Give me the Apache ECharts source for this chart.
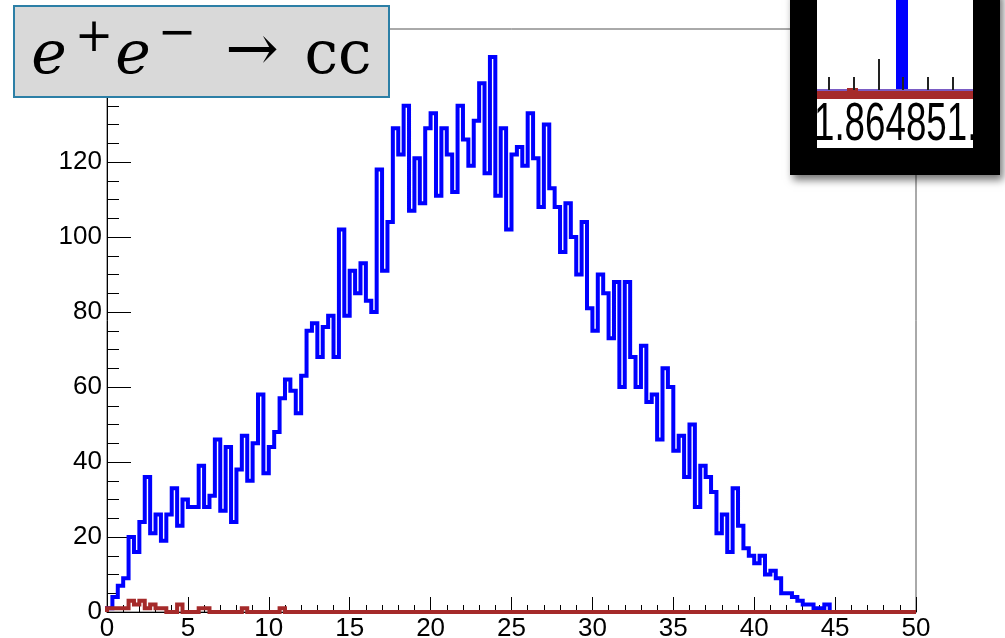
<!DOCTYPE html>
<html>
<head>
<meta charset="utf-8">
<script src="https://cdn.jsdelivr.net/npm/echarts@6/dist/echarts.min.js"></script>
<style>
  html, body { margin: 0; padding: 0; background: #fff; }
  #chart { width: 1005px; height: 638px; }
</style>
</head>
<body>
<div id="chart"></div>
<script>
// histogram: 150 bins from 0 to 50
const xMin = 0;
const xMax = 50;
const binCount = 150;
const yMax = 155.5;

const blueCounts = [
  1, 4, 7, 9, 20, 16, 24, 36, 21, 26,
  19, 26, 33, 23, 30, 28, 28, 39, 28, 31,
  46, 27, 44, 24, 38, 47, 35, 45, 58, 37,
  44, 48, 57, 62, 59, 53, 63, 75, 77, 68,
  76, 79, 68, 102, 79, 91, 85, 93, 83, 80,
  118, 91, 104, 129, 122, 135, 107, 121, 109, 129,
  133, 111, 129, 122, 112, 135, 126, 119, 131, 141,
  117, 148, 111, 129, 102, 122, 124, 119, 133, 121,
  108, 130, 113, 108, 96, 109, 100, 90, 104, 81,
  75, 90, 85, 73, 88, 60, 88, 68, 60, 71,
  56, 58, 46, 65, 60, 43, 47, 36, 50, 28,
  39, 36, 32, 21, 26, 16, 33, 23, 17, 15,
  13, 15, 10, 11, 9, 5, 5, 4, 3, 2,
  2, 1, 1, 2, 0, 0, 0, 0, 0, 0,
  0, 0, 0, 0, 0, 0, 0, 0, 0, 0
];

const redCounts = [
  1, 1, 1, 1, 3, 2, 3, 1, 2, 1,
  1, 0, 0, 2, 0, 0, 0, 1, 1, 0,
  0, 0, 0, 0, 0, 1, 0, 0, 0, 0,
  0, 0, 1, 0, 0, 0, 0, 0, 0, 0
];

const xTickLabels = ['0', '5', '10', '15', '20', '25', '30', '35', '40', '45', '50'];
const yTickLabels = ['0', '20', '40', '60', '80', '100', '120', '140'];

const titleParts = ['e', '+', 'e', '\u2212', '\u2192', 'cc'];
const insetLabel = '1.864851.';

// build step outline points from bin counts
function histPoints(counts) {
  const w = (xMax - xMin) / binCount;
  const pts = [[xMin, 0]];
  for (let i = 0; i < binCount; i++) {
    pts.push([xMin + i * w, counts[i] || 0]);
  }
  pts.push([xMax, counts[binCount - 1] || 0]);
  return pts;
}

const chart = echarts.init(document.getElementById('chart'));

const axisFont = { fontSize: 26, color: '#000', fontFamily: 'Liberation Sans, Arial, sans-serif' };

const option = {
  animation: false,
  backgroundColor: '#fff',
  grid: {
    left: 107, top: 29, width: 809, height: 583,
    outerBoundsMode: 'none', containLabel: false,
    show: true, borderColor: '#555', borderWidth: 1, backgroundColor: 'transparent'
  },
  xAxis: {
    type: 'value', min: xMin, max: xMax, interval: 5,
    axisLine: { show: true, onZero: false, lineStyle: { color: '#000', width: 1 } },
    axisTick: { show: true, inside: true, length: 15, lineStyle: { color: '#000', width: 1 } },
    minorTick: { show: true, splitNumber: 5, length: 7, lineStyle: { color: '#000', width: 1 } },
    splitLine: { show: false },
    axisLabel: Object.assign({ margin: 4, formatter: v => xTickLabels[Math.round(v / 5)] || '' }, axisFont)
  },
  yAxis: {
    type: 'value', min: 0, max: yMax, interval: 20,
    axisLine: { show: true, onZero: false, lineStyle: { color: '#000', width: 1 } },
    axisTick: { show: true, inside: true, length: 24, lineStyle: { color: '#000', width: 1 } },
    minorTick: { show: true, splitNumber: 4, length: 12, lineStyle: { color: '#000', width: 1 } },
    splitLine: { show: false },
    axisLabel: Object.assign({
      margin: 5,
      showMaxLabel: false,
      formatter: v => (v % 20 === 0 ? (yTickLabels[v / 20] || '') : '')
    }, axisFont)
  },
  series: [
    {
      type: 'line', step: 'end', symbol: 'none', clip: false,
      data: histPoints(blueCounts),
      lineStyle: { color: '#0000ff', width: 4, join: 'miter' },
      z: 2
    },
    {
      type: 'line', step: 'end', symbol: 'none', clip: false,
      data: histPoints(redCounts),
      lineStyle: { color: '#a52a2a', width: 4, join: 'miter' },
      z: 3
    }
  ],
  graphic: [
    // title box
    { type: 'rect', z: 100, shape: { x: 14, y: 6, width: 375, height: 91 },
      style: { fill: '#d9d9d9', stroke: '#2c7fa6', lineWidth: 2 } },
    { type: 'text', z: 101, style: { x: 49, y: 57, text: titleParts[0], font: 'italic 60px "DejaVu Serif"', fill: '#000', textAlign: 'center', textVerticalAlign: 'middle' } },
    { type: 'text', z: 101, style: { x: 94, y: 39, text: titleParts[1], font: '46px "DejaVu Serif"', fill: '#000', textAlign: 'center', textVerticalAlign: 'middle' } },
    { type: 'text', z: 101, style: { x: 133, y: 57, text: titleParts[2], font: 'italic 60px "DejaVu Serif"', fill: '#000', textAlign: 'center', textVerticalAlign: 'middle' } },
    { type: 'text', z: 101, style: { x: 177, y: 35, text: titleParts[3], font: '46px "DejaVu Serif"', fill: '#000', textAlign: 'center', textVerticalAlign: 'middle' } },
    { type: 'text', z: 101, style: { x: 252, y: 53, text: titleParts[4], font: '64px "DejaVu Serif", "DejaVu Sans"', fill: '#000', textAlign: 'center', textVerticalAlign: 'middle' } },
    { type: 'text', z: 101, style: { x: 338, y: 57, text: titleParts[5], font: '60px "DejaVu Serif"', fill: '#000', textAlign: 'center', textVerticalAlign: 'middle' } },

    // inset picture (top right)
    { type: 'rect', z: 110, shape: { x: 790, y: -10, width: 210, height: 185 },
      style: { fill: '#000', shadowBlur: 8, shadowColor: 'rgba(0,0,0,0.55)', shadowOffsetX: 3, shadowOffsetY: 5 } },
    { type: 'rect', z: 111, shape: { x: 817, y: 0, width: 156, height: 148 }, style: { fill: '#fff' } },
    { type: 'rect', z: 112, shape: { x: 896, y: 0, width: 12, height: 91 }, style: { fill: '#0000ff' } },
    { type: 'rect', z: 112, shape: { x: 817, y: 89, width: 156, height: 2 }, style: { fill: '#7a5cc4' } },
    { type: 'rect', z: 113, shape: { x: 817, y: 91, width: 156, height: 8 }, style: { fill: '#a52a2a' } },
    { type: 'rect', z: 113, shape: { x: 847, y: 88, width: 11, height: 4 }, style: { fill: '#a52a2a' } },
    { type: 'line', z: 114, shape: { x1: 829, y1: 77, x2: 829, y2: 90 }, style: { stroke: '#222', lineWidth: 2 } },
    { type: 'line', z: 114, shape: { x1: 854, y1: 77, x2: 854, y2: 90 }, style: { stroke: '#222', lineWidth: 2 } },
    { type: 'line', z: 114, shape: { x1: 879, y1: 59, x2: 879, y2: 90 }, style: { stroke: '#222', lineWidth: 2 } },
    { type: 'line', z: 114, shape: { x1: 903, y1: 77, x2: 903, y2: 90 }, style: { stroke: '#222', lineWidth: 2 } },
    { type: 'line', z: 114, shape: { x1: 928, y1: 77, x2: 928, y2: 90 }, style: { stroke: '#222', lineWidth: 2 } },
    { type: 'line', z: 114, shape: { x1: 953, y1: 77, x2: 953, y2: 90 }, style: { stroke: '#222', lineWidth: 2 } },
    { type: 'text', z: 115, x: 814, y: 98, scaleX: 0.68,
      style: { x: 0, y: 0, text: insetLabel, font: '54px "Liberation Sans", Arial', fill: '#000', textVerticalAlign: 'top' } },
    // frame pieces over the inset picture edges
    { type: 'rect', z: 116, shape: { x: 790, y: -10, width: 27, height: 185 }, style: { fill: '#000' } },
    { type: 'rect', z: 116, shape: { x: 973, y: -10, width: 27, height: 185 }, style: { fill: '#000' } },
    { type: 'rect', z: 116, shape: { x: 790, y: 148, width: 210, height: 27 }, style: { fill: '#000' } }
  ]
};

chart.setOption(option);
</script>
</body>
</html>
